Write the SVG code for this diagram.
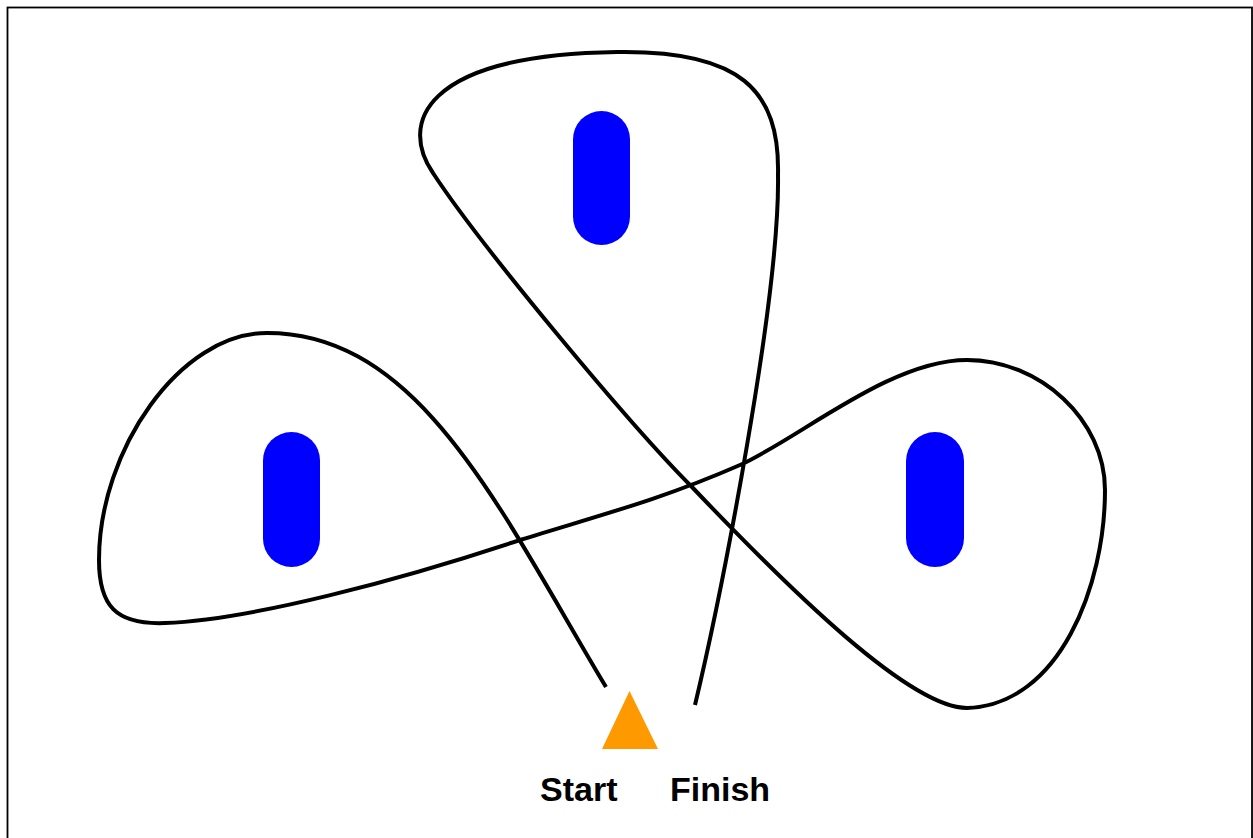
<svg xmlns="http://www.w3.org/2000/svg" width="1253" height="838" viewBox="0 0 1253 838">
  <style>
    .frame { fill: #ffffff; stroke: #000000; stroke-width: 1.8; }
    .post { fill: #0000ff; }
    .track { fill: none; stroke: #000000; stroke-width: 4; stroke-linecap: butt; stroke-linejoin: round; }
    .cone { fill: #ff9900; }
    .label { font-family: "Liberation Sans", Arial, sans-serif; font-weight: bold; font-size: 34px; fill: #000000; }
  </style>
  <rect class="frame" x="7.5" y="7.5" width="1244.5" height="840"/>
  <g id="connectors">
    <path class="track" d="M606,687 C500,510 420,333 267,333 C180,333 99,450 99,560 C99,605 115,625 165,623 C250,620 400,580 520,540 C600,515 660,500 740,465 C800,438 890,360 967,360 C1040,360 1105,420 1105,490 C1105,585 1060,705 967,708 C910,708 790,590 692,487 C630,425 480,245 433,173 C400,125 420,55 617,52 C740,50 780,90 778,175 C780,300 720,600 695,705"/>
  </g>
  <g id="post-top">
    <rect class="post" x="573" y="111" width="57" height="134" rx="28.5" ry="28.5"/>
  </g>
  <g id="post-left">
    <rect class="post" x="263" y="432" width="57" height="135" rx="28.5" ry="28.5"/>
  </g>
  <g id="post-right">
    <rect class="post" x="906" y="432" width="58" height="135" rx="29" ry="29"/>
  </g>
  <g id="cone">
    <polygon class="cone" points="629.5,691 602,749 658,749"/>
  </g>
  <g id="start-label">
    <text class="label" x="540" y="801">Start</text>
  </g>
  <g id="finish-label">
    <text class="label" x="670" y="801">Finish</text>
  </g>
</svg>
